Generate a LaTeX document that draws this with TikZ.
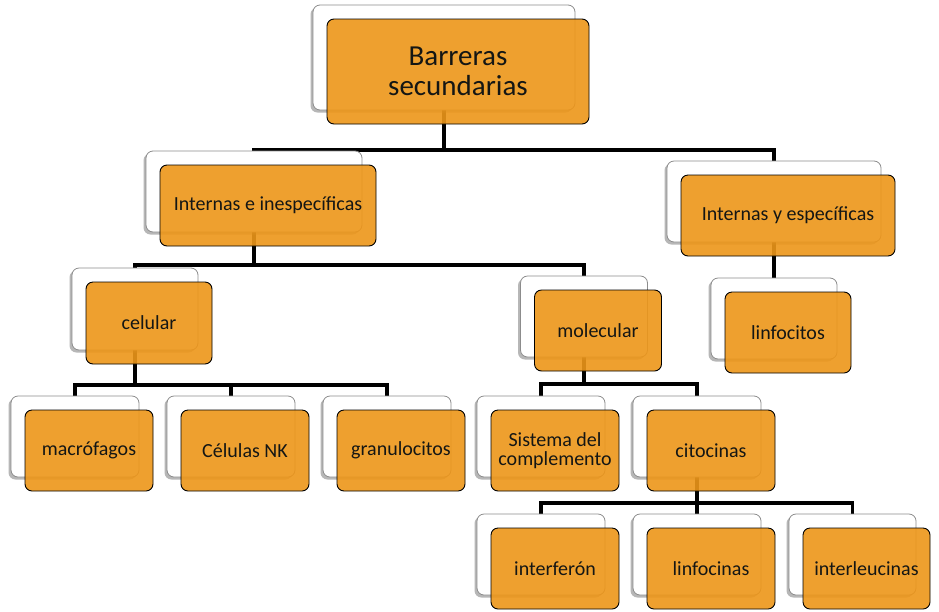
\documentclass[tikz,border=0pt]{standalone}
\usepackage{fontspec}
\setmainfont{Carlito}
\usetikzlibrary{shadows}
\pgfdeclarelayer{background}
\pgfdeclarelayer{foreground}
\pgfsetlayers{background,main,foreground}
\definecolor{boxorange}{RGB}{237,150,25}
\definecolor{txt}{RGB}{20,22,20}
\tikzset{
  backbox/.style={draw=black!45, line width=0.8pt, fill=white, rounded corners=7pt,
    inner sep=0pt, outer sep=0pt,
    drop shadow={shadow xshift=-2.5pt, shadow yshift=-2.5pt, opacity=0.4, fill=black!70}},
  frontbox/.style={draw=black, line width=0.9pt, fill=boxorange, fill opacity=0.9,
    draw opacity=1, text opacity=1, rounded corners=7pt, text=txt,
    font=\fontsize{20}{21}\selectfont, align=center, inner sep=0pt, outer sep=0pt},
  link/.style={line width=3.4pt, draw=black},
}
% #1 name, #2 x, #3 y (centre of back box), #4 width, #5 height, #6 extra style, #7 text
\newcommand\boxpair[7]{%
  \node[backbox, minimum width=#4pt, minimum height=#5pt] (#1) at (#2,#3) {};
  \begin{pgfonlayer}{foreground}
    \node[frontbox, minimum width=#4pt, minimum height=#5pt, #6] (#1-f) at (#2+14,#3+14) {#7};
  \end{pgfonlayer}}
\begin{document}
\begin{tikzpicture}[x=1pt, y=-1pt]
\useasboundingbox (0,0) rectangle (939,611);
\begin{pgfonlayer}{background}
  \fill[white] (0,0) rectangle (939,611);
\end{pgfonlayer}

\boxpair{top}{444}{57.5}{262}{105}{font=\fontsize{29}{30}\selectfont}{Barreras\\secundarias}
\boxpair{ie}{254}{191.5}{216}{81}{}{Internas e inespecíficas}
\boxpair{ye}{774}{201.5}{214}{81}{}{Internas y específicas}
\boxpair{linf}{774}{318.5}{126}{81}{}{linfocitos}
\boxpair{cel}{135}{309}{126}{82}{}{celular}
\boxpair{mol}{584}{316.5}{127}{81}{}{molecular}
\boxpair{mac}{75}{436.5}{128}{81}{}{macrófagos}
\boxpair{nk}{231}{436.5}{128}{81}{}{Células NK}
\boxpair{gra}{387}{436.5}{128}{81}{}{granulocitos}
\boxpair{sis}{541}{436.5}{128}{81}{font=\fontsize{20}{19}\selectfont}{Sistema del\\complemento}
\boxpair{cit}{697}{436.5}{128}{81}{}{citocinas}
\boxpair{inf}{541}{554.5}{128}{81}{}{interferón}
\boxpair{lfc}{697}{554.5}{128}{81}{}{linfocinas}
\boxpair{ilk}{852.5}{554.5}{127}{81}{}{interleucinas}

\coordinate (b1) at (444,150);
\coordinate (b2) at (254,265);
\coordinate (b3) at (135,385);
\coordinate (b4) at (584,384);
\coordinate (b5) at (697,503);

\begin{pgfonlayer}{background}
  \draw[link] (top.south) -- (b1);
  \draw[link] (ie.north) |- (b1) -| (ye.north);
  \draw[link] (ye.south) -- (linf.north);
  \draw[link] (ie.south) -- (b2);
  \draw[link] (cel.north) |- (b2) -| (mol.north);
  \draw[link] (cel.south) -- (b3);
  \draw[link] (mac.north) |- (b3) -| (gra.north);
  \draw[link] (nk.north) -- (nk.north |- b3);
  \draw[link] (mol.south) -- (b4);
  \draw[link] (sis.north) |- (b4) -| (cit.north);
  \draw[link] (cit.south) -- (b5);
  \draw[link] (inf.north) |- (b5) -| (ilk.north);
  \draw[link] (lfc.north) -- (lfc.north |- b5);
\end{pgfonlayer}
\end{tikzpicture}
\end{document}
